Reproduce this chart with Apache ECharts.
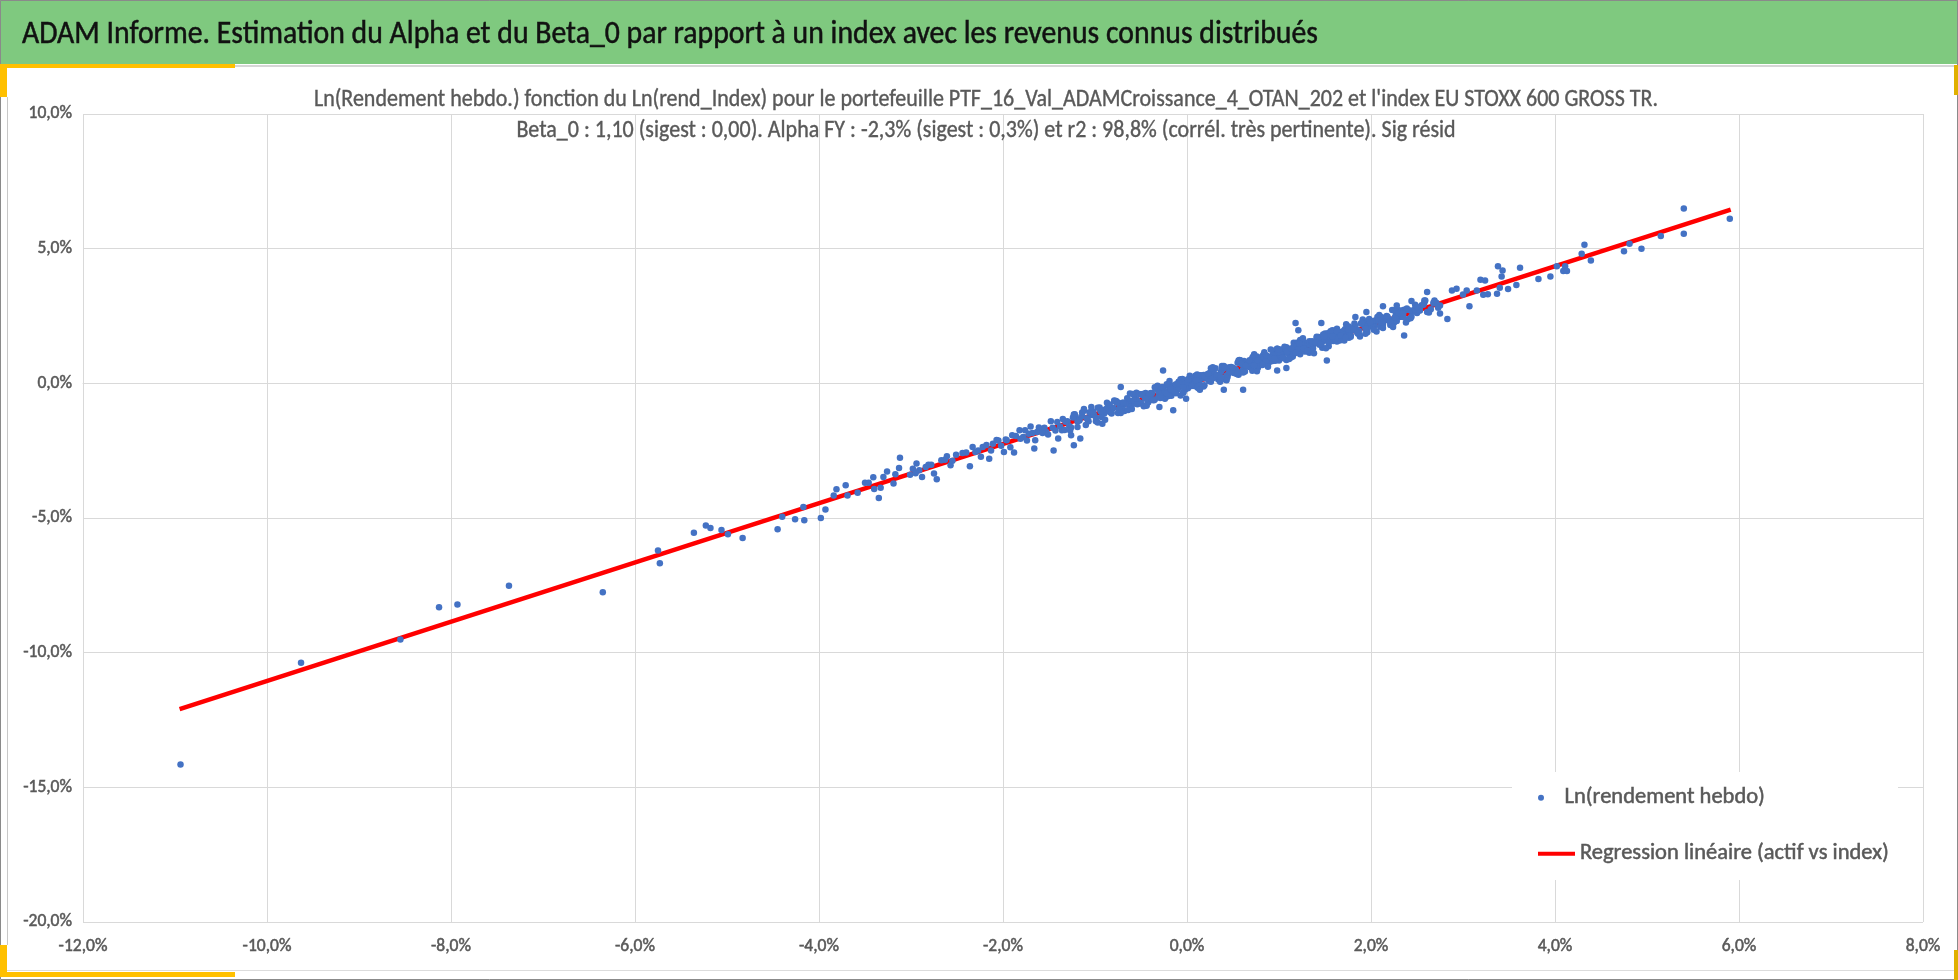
<!DOCTYPE html>
<html>
<head>
<meta charset="utf-8">
<script src="https://cdn.jsdelivr.net/npm/echarts@6/dist/echarts.min.js"></script>
<style>
html,body{margin:0;padding:0;background:#fff;}
#chart{width:1958px;height:980px;}
</style>
</head>
<body>
<div id="chart"></div>
<script>
// ---------- texts ----------
const headerTitle = "ADAM Informe. Estimation du Alpha et du Beta_0 par rapport à un index avec les revenus connus distribués";
const subtitleLine1 = "Ln(Rendement hebdo.) fonction du Ln(rend_Index) pour le portefeuille PTF_16_Val_ADAMCroissance_4_OTAN_202 et l'index EU STOXX 600 GROSS TR.";
const subtitleLine2 = "Beta_0 : 1,10 (sigest : 0,00). Alpha FY : -2,3% (sigest : 0,3%) et r2 : 98,8% (corrél. très pertinente). Sig résid";
const scatterName = "Ln(rendement hebdo)";
const lineName = "Regression linéaire (actif vs index)";

// ---------- axes ----------
const xMin = -12, xMax = 8, xStep = 2;
const yMin = -20, yMax = 10, yStep = 5;

// ---------- data : [index weekly ln return %, portfolio weekly ln return %] ----------
const leftTailPoints = [
[-10.94,-14.15],[-9.63,-10.37],[-8.55,-9.51],[-8.13,-8.31],[-7.93,-8.21],[-7.37,-7.52],[-6.35,-7.76],
[-5.75,-6.21],[-5.73,-6.68],[-5.36,-5.55],[-5.23,-5.28],[-5.18,-5.37],[-5.06,-5.45],[-4.99,-5.60],
[-4.83,-5.74],[-4.45,-5.42],[-4.40,-4.95],[-4.26,-5.05],[-4.17,-4.59],[-4.16,-5.08],[-3.98,-5.00],
[-3.93,-4.68],[-3.84,-4.16],[-3.81,-3.93],[-3.71,-3.78],[-3.69,-4.16]
];
const sparseMidPoints = [
[-3.58,-4.06],[-3.50,-3.69],[-3.46,-3.69],[-3.41,-3.49],[-3.40,-3.92],[-3.35,-4.26],[-3.33,-3.88],
[-3.30,-3.48],[-3.26,-3.27],[-3.19,-3.72],[-3.17,-3.38],[-3.13,-3.14],[-3.12,-2.76],[-3.01,-3.39],
[-2.98,-3.17],[-2.94,-2.98],[-2.91,-3.23],[-2.88,-3.48],[-2.84,-3.11],[-2.81,-3.02],[-2.75,-3.35],
[-2.72,-3.56],[-2.67,-2.86],[-2.61,-2.71],[-2.57,-3.04],[-2.51,-2.65],[-2.44,-2.59],[-2.36,-3.08],
[-2.33,-2.36],[-2.30,-2.55],[-2.24,-2.73],[-2.22,-2.36],[-2.15,-2.80],[-2.11,-2.24],[-2.05,-2.12],
[-1.99,-2.55],[-1.97,-2.09],[-1.90,-1.93],[-1.88,-2.57],[-1.82,-1.74],[-1.78,-1.99],[-1.72,-1.87],
[-1.70,-1.60],[-1.66,-2.42],[-1.63,-1.81],[-1.59,-1.74],[-1.53,-1.81],[-1.45,-2.49],[-1.40,-2.05],
[-1.36,-1.74],[-1.26,-1.93],[-1.23,-2.30],[-1.16,-2.05]
];
const bandPointsA = [
[-1.30,-1.41],[-1.26,-1.64],[-1.21,-1.23],[-1.17,-1.36],[-1.12,-1.02],[-1.08,-1.35],[-1.04,-1.18],
[-0.99,-1.41],[-0.95,-0.90],[-0.90,-1.12],[-0.86,-0.88],[-0.82,-1.12],[-0.77,-0.66],[-0.73,-0.81],
[-0.68,-1.03],[-0.64,-0.62],[-0.60,-0.77],[-0.55,-0.35],[-0.51,-0.75],[-0.46,-0.53],[-0.42,-0.70],
[-0.38,-0.37],[-0.33,-0.20],[-0.29,-0.37],[-0.24,-0.57],[-0.20,-0.11],[-0.16,-0.32],[-0.11,-0.12],
[-0.07,0.15],[-0.02,-0.23],[0.02,0.10],[0.06,-0.02],[0.11,-0.14],[0.15,0.30],[0.20,0.18],
[0.24,0.09],[0.28,0.50],[0.33,0.25],[0.37,0.44],[0.42,0.13],[0.46,0.60],[0.50,0.49],[0.55,0.76],
[0.59,0.42],[0.64,0.72],[0.68,0.61],[0.72,1.00],[0.77,0.57],[0.81,0.95],[0.86,0.93],[0.90,0.80],
[0.94,1.21],[0.99,0.99],[1.03,1.26],[1.08,0.87],[1.12,1.20],[1.16,1.51],[1.21,1.18],[1.25,1.46],
[1.30,1.19],[1.34,1.50],[1.38,1.46],[1.43,1.72],[1.47,1.32],[1.52,1.67],[1.56,1.59],[1.60,1.95],
[1.65,1.63],[1.69,1.92],[1.74,1.87],[1.78,1.73],[1.82,2.22],[1.87,1.95],[1.91,2.21],[1.96,1.90],
[2.00,2.25],[2.04,2.17],[2.09,2.54],[2.13,2.18],[2.18,2.40],[2.22,2.24],[2.27,2.57],[2.31,2.46],
[2.36,2.73],[2.40,2.38],[2.45,2.67],[2.50,2.61],[2.55,2.90],[2.61,2.65],[2.68,2.96],[2.75,2.89]
];
const bandPointsB = [
[-1.28,-1.58],[-1.23,-1.16],[-1.19,-1.42],[-1.14,-1.22],[-1.10,-1.55],[-1.06,-1.07],[-1.01,-1.18],
[-0.97,-0.91],[-0.93,-1.25],[-0.88,-0.95],[-0.84,-1.06],[-0.79,-0.66],[-0.75,-1.10],[-0.70,-0.72],
[-0.66,-0.74],[-0.62,-0.88],[-0.57,-0.45],[-0.53,-0.68],[-0.48,-0.40],[-0.44,-0.80],[-0.40,-0.48],
[-0.35,-0.15],[-0.31,-0.50],[-0.26,-0.20],[-0.22,-0.49],[-0.18,-0.17],[-0.13,-0.20],[-0.09,0.05],
[-0.04,-0.34],[0.00,-0.01],[0.04,-0.08],[0.09,0.28],[0.13,-0.04],[0.17,0.25],[0.22,0.20],
[0.26,0.06],[0.31,0.56],[0.35,0.28],[0.39,0.53],[0.44,0.23],[0.48,0.57],[0.53,0.51],[0.57,0.87],
[0.61,0.51],[0.66,0.73],[0.70,0.57],[0.75,0.90],[0.79,0.78],[0.83,1.05],[0.88,0.70],[0.92,0.99],
[0.97,0.92],[1.01,1.21],[1.05,0.93],[1.10,1.23],[1.14,1.12],[1.19,1.51],[1.23,1.08],[1.27,1.45],
[1.32,1.44],[1.36,1.30],[1.41,1.73],[1.45,1.50],[1.49,1.76],[1.54,1.38],[1.58,1.70],[1.63,2.03],
[1.67,1.68],[1.71,1.97],[1.76,1.69],[1.80,2.01],[1.85,1.98],[1.89,2.22],[1.94,1.84],[1.98,2.17],
[2.02,2.10],[2.07,2.46],[2.11,2.14],[2.16,2.44],[2.20,2.38],[2.25,2.25],[2.29,2.73],[2.34,2.47],
[2.38,2.72],[2.43,2.42],[2.48,2.77],[2.53,2.71],[2.58,2.99],[2.65,2.75],[2.71,2.99]
];
const bandPointsC = [
[-0.80,-0.92],[-0.75,-0.71],[-0.70,-0.90],[-0.65,-0.55],[-0.60,-0.95],[-0.55,-0.60],[-0.50,-0.73],
[-0.45,-0.36],[-0.40,-0.54],[-0.35,-0.60],[-0.30,-0.16],[-0.25,-0.29],[-0.20,-0.47],[-0.15,-0.08],
[-0.10,-0.23],[-0.05,0.16],[0.01,-0.18],[0.07,0.11],[0.12,-0.17],[0.18,0.31],[0.23,0.18],
[0.29,0.38],[0.34,0.14],[0.40,0.64],[0.45,0.35],[0.51,0.54],[0.56,0.32],[0.62,0.83],[0.67,0.63],
[0.73,0.85],[0.78,0.65],[0.84,1.15],[0.89,0.91],[0.95,1.12],[1.00,0.85],[1.06,1.15],[1.11,1.06],
[1.17,1.44],[1.22,1.23],[1.28,1.51],[1.33,1.14],[1.39,1.54],[1.44,1.43],[1.50,1.85],[1.55,1.62],
[1.61,1.83],[1.66,1.59],[1.72,2.02],[1.77,1.81],[1.83,2.01],[1.88,1.78],[1.94,2.30],[1.99,2.12],
[2.05,2.34],[2.10,2.10],[2.16,2.39],[2.21,2.29]
];
const bandPointsD = [
[-0.27,-0.42],[-0.19,-0.13],[-0.12,-0.37],[-0.06,-0.06],[0.03,0.19],[0.08,-0.07],[0.14,0.13],
[0.19,-0.07],[0.25,0.39],[0.32,0.27],[0.38,0.64],[0.43,0.29],[0.49,0.57],[0.54,0.35],[0.60,0.75],
[0.65,0.67],[0.71,0.47],[0.76,1.00],[0.82,0.80],[0.87,1.01],[0.93,0.83],[0.98,1.28],[1.04,1.07],
[1.09,1.22],[1.15,1.00],[1.20,1.46],[1.26,1.25],[1.31,1.43],[1.37,1.29],[1.42,1.66],[1.48,1.57],
[1.53,1.86],[1.59,1.57],[1.64,1.82],[1.70,1.62],[1.75,1.99]
];
const bandPointsE = [
[-1.27,-1.75],[-1.22,-1.15],[-1.17,-1.38],[-1.12,-0.95],[-1.07,-1.41],[-1.02,-1.05],[-0.97,-1.45],
[-0.92,-0.99],[-0.87,-0.72],[-0.82,-1.07],[-0.77,-0.70],[-0.72,-1.10],[-0.67,-0.76],[-0.62,-0.38],
[-0.57,-0.75],[-0.52,-0.40],[-0.47,-0.85],[-0.42,-0.41],[-0.37,-0.62],[-0.32,-0.09],[-0.27,-0.36],
[-0.22,-0.03],[-0.17,-0.46],[-0.12,-0.03],[-0.07,-0.45],[-0.02,-0.02],[0.03,0.28],[0.08,-0.10],
[0.13,0.28],[0.18,-0.12],[0.23,0.30],[0.28,0.60],[0.33,0.22],[0.38,0.58],[0.43,0.11],[0.48,0.61],
[0.53,0.48],[0.58,0.86],[0.63,0.44],[0.68,0.73],[0.73,1.08],[0.78,0.65],[0.83,1.04],[0.88,0.62],
[0.93,1.06],[0.98,1.28],[1.03,0.98],[1.08,1.34],[1.13,0.96],[1.18,1.31],[1.23,1.61],[1.28,1.18],
[1.33,1.56],[1.38,1.12],[1.43,1.64],[1.48,1.81],[1.53,1.57],[1.58,1.97],[1.63,1.55],[1.68,1.81],
[1.73,2.19],[1.78,1.78],[1.83,2.13],[1.88,1.74],[1.93,2.12],[1.98,2.39],[2.03,2.10],[2.08,2.45],
[2.13,2.05],[2.18,2.47],[2.23,2.72],[2.28,2.31],[2.33,2.70],[2.38,2.26],[2.43,2.70],[2.48,2.92],
[2.53,2.70],[2.58,3.08],[2.63,2.63],[2.68,3.00],[2.73,2.81]
];
const bandPointsF = [
[-1.24,-1.27],[-1.19,-1.62],[-1.14,-1.08],[-1.09,-1.30],[-1.04,-0.88],[-0.99,-1.28],[-0.94,-1.04],
[-0.89,-1.35],[-0.84,-0.79],[-0.79,-0.64],[-0.74,-0.96],[-0.69,-0.72],[-0.64,-0.99],[-0.59,-0.40],
[-0.54,-0.66],[-0.49,-0.42],[-0.44,-0.83],[-0.39,-0.36],[-0.34,-0.19],[-0.29,-0.54],[-0.24,-0.31],
[-0.19,0.09],[-0.14,-0.32],[-0.09,0.06],[-0.04,-0.35],[0.01,0.03],[0.06,-0.06],[0.11,0.33],
[0.16,-0.08],[0.21,0.32],[0.26,0.56],[0.31,0.26],[0.36,0.06],[0.41,0.58],[0.46,0.55],[0.51,0.38],
[0.56,0.85],[0.61,0.40],[0.66,0.70],[0.71,0.95],[0.76,0.45],[0.81,0.97],[0.86,0.85],[0.91,1.26],
[0.96,0.84],[1.01,1.14],[1.06,1.36],[1.11,0.90],[1.16,1.38],[1.21,1.28],[1.26,1.67],[1.31,1.20],
[1.36,1.50],[1.41,1.70],[1.46,1.45],[1.51,1.30],[1.56,1.93],[1.61,1.66],[1.66,1.88],[1.71,1.59],
[1.76,2.11],[1.81,1.98],[1.86,1.84],[1.91,2.37],[1.96,2.02],[2.01,2.31],[2.06,1.92],[2.11,2.46],
[2.16,2.34],[2.21,2.17],[2.26,2.71]
];
const bandPointsG = [
[-2.18,-2.29],[-2.13,-2.49],[-2.07,-2.10],[-2.02,-2.32],[-1.96,-2.11],[-1.92,-2.37],[-1.86,-1.96],
[-1.81,-2.06],[-1.76,-1.74],[-1.74,-2.12],[-1.68,-1.84],[-1.65,-2.11],[-1.61,-1.64],[-1.57,-1.84],
[-1.55,-1.65],[-1.51,-1.90],[-1.48,-1.41],[-1.46,-1.65],[-1.43,-1.75],[-1.41,-1.44],[-1.38,-1.60],
[-1.35,-1.32],[-1.33,-1.73],[-1.32,-1.43],[-2.27,-2.49],[-2.40,-2.57],[-2.55,-2.87],[-2.63,-2.84],
[-2.78,-3.02],[-2.95,-3.34]
];
const bandPointsH = [
[-0.58,-0.63],[-0.54,-0.78],[-0.49,-0.41],[-0.45,-0.57],[-0.40,-0.38],[-0.36,-0.63],[-0.31,-0.31],
[-0.27,-0.14],[-0.22,-0.38],[-0.18,-0.22],[-0.13,-0.35],[-0.09,-0.01],[-0.04,-0.15],[0.01,0.15],
[0.05,-0.10],[0.10,0.11],[0.14,-0.09],[0.19,0.26],[0.23,0.36],[0.28,0.19],[0.32,0.32],[0.37,0.23],
[0.41,0.60],[0.46,0.42],[0.50,0.58],[0.55,0.39],[0.59,0.72],[0.64,0.65],[0.68,0.86],[0.73,0.66],
[0.77,0.86],[0.82,0.68],[0.86,1.04],[0.91,0.96],[0.95,0.92],[1.00,1.26],[1.04,0.95],[1.09,1.18],
[1.13,1.29],[1.18,1.13],[1.22,1.47],[1.27,1.30],[1.31,1.21],[1.36,1.56],[1.40,1.52],[1.45,1.46],
[1.49,1.74],[1.54,1.51],[1.58,1.75],[1.63,1.93],[1.67,1.77],[1.72,1.69],[1.76,1.99],[1.81,1.99],
[1.85,1.88],[1.90,2.24],[1.94,2.03],[1.99,2.27],[2.03,1.99],[2.08,2.32],[2.12,2.26],[2.17,2.50],
[2.21,2.26],[2.26,2.45],[2.30,2.61],[2.35,2.46],[2.39,2.78],[2.44,2.47],[2.48,2.73],[2.53,2.73],
[2.57,2.92]
];
const bandOutliers = [
[-0.72,-0.14],[-0.26,0.48],[-0.92,-1.50],[-0.30,-0.88],[-0.15,-1.00],[-0.01,-0.57],[0.14,-0.24],
[0.40,-0.24],[0.61,-0.24],[0.98,0.48],[1.08,0.57],[1.18,2.24],[1.21,1.97],[1.46,2.24],[1.52,0.85],
[1.83,2.46],[1.95,2.65],[2.13,2.86],[2.28,2.89],[2.24,2.09],[2.36,1.78],[2.35,2.59],[2.83,2.39],
[2.75,2.59]
];
const rightTailPoints = [
[2.44,3.06],[2.50,2.83],[2.59,3.08],[2.61,3.39],[2.69,3.08],[2.88,3.45],[2.93,3.51],[3.00,3.30],
[3.04,3.45],[3.07,2.86],[3.15,3.45],[3.19,3.85],[3.22,3.29],[3.24,3.82],[3.27,3.31],[3.37,3.33],
[3.40,3.55],[3.42,3.97],[3.38,4.35],[3.43,4.19],[3.49,3.50],[3.58,3.65],[3.62,4.29],[3.82,3.87],
[3.95,3.97],[4.02,4.35],[4.09,4.17],[4.11,4.35],[4.13,4.17],[4.29,4.81],[4.32,5.15],[4.39,4.56],
[4.75,4.90],[4.81,5.18],[4.94,5.00],[5.15,5.47],[5.40,5.55],[5.40,6.49],[5.90,6.11]
];
const regressionLine = [[-10.95,-12.10],[5.91,6.45]];

const weeklyPoints = [].concat(leftTailPoints, sparseMidPoints, bandPointsA, bandPointsB,
  bandPointsC, bandPointsD, bandPointsE, bandPointsF, bandPointsG, bandPointsH,
  bandOutliers, rightTailPoints);

// ---------- style ----------
const FONT = "Carlito, 'Liberation Sans Narrow', 'Open Sans', sans-serif";
const GREY = '#595959';
const GRID = '#d9d9d9';
const pct = v => v.toFixed(1).replace('.', ',') + '%';

const chart = echarts.init(document.getElementById('chart'), null, {renderer: 'canvas'});
chart.setOption({
  animation: false,
  backgroundColor: '#ffffff',
  grid: {left: 83, right: 35, top: 114, bottom: 58},
  xAxis: {
    type: 'value', min: xMin, max: xMax, interval: xStep,
    axisLine: {show: true, lineStyle: {color: GRID, width: 1}},
    axisTick: {show: false},
    splitLine: {show: true, lineStyle: {color: GRID, width: 1}},
    axisLabel: {formatter: pct, color: GREY, fontSize: 17.5, fontFamily: FONT, margin: 16,
      textBorderColor: GREY, textBorderWidth: 0.5}
  },
  yAxis: {
    type: 'value', min: yMin, max: yMax, interval: yStep,
    axisLine: {show: false},
    axisTick: {show: false},
    splitLine: {show: true, lineStyle: {color: GRID, width: 1}},
    axisLabel: {formatter: pct, color: GREY, fontSize: 17.5, fontFamily: FONT, margin: 11,
      textBorderColor: GREY, textBorderWidth: 0.5}
  },
  legend: [
    {data: [scatterName], left: 1533, top: 781, itemWidth: 37, itemHeight: 6, icon: 'circle',
     itemGap: 0, z: 10, textStyle: {color: GREY, fontSize: 22.5, fontFamily: FONT,
       textBorderColor: GREY, textBorderWidth: 0.5}},
    {data: [lineName], left: 1533, top: 837, itemWidth: 37, itemHeight: 4, icon: 'rect',
     itemGap: 0, z: 10, textStyle: {color: GREY, fontSize: 22.5, fontFamily: FONT,
       textBorderColor: GREY, textBorderWidth: 0.5}}
  ],
  series: [
    {name: lineName, type: 'line', data: regressionLine, symbol: 'none', z: 2,
     lineStyle: {color: '#ff0000', width: 4.5}, itemStyle: {color: '#ff0000'}},
    {name: scatterName, type: 'scatter', data: weeklyPoints, symbolSize: 6.5, z: 3,
     itemStyle: {color: '#4472c4', opacity: 1}}
  ],
  graphic: [
    // header band
    {type: 'rect', shape: {x: 0, y: 0, width: 1958, height: 64}, style: {fill: '#7fc97f'}, z: 1},
    {type: 'text', z: 2, x: 22, y: 35, scaleX: 0.93, scaleY: 1,
     style: {x: 0, y: 0, text: headerTitle, verticalAlign: 'middle',
      font: "32px " + FONT, fill: '#111111', stroke: '#111111', lineWidth: 0.5}},
    // separators and frame
    {type: 'rect', shape: {x: 235, y: 65, width: 1723, height: 2}, style: {fill: '#d6d6d6'}, z: 1},
    {type: 'rect', shape: {x: 0, y: 970, width: 1958, height: 1}, style: {fill: '#dcdcdc'}, z: 1},
    {type: 'rect', shape: {x: 7, y: 97, width: 1, height: 848}, style: {fill: '#c8c8c8'}, z: 1},
    {type: 'rect', shape: {x: 0.5, y: 0.5, width: 1957, height: 979}, style: {fill: 'none', stroke: '#8a8a8a', lineWidth: 1}, z: 1},
    // orange corner marks
    {type: 'rect', shape: {x: 0, y: 64, width: 235, height: 4}, style: {fill: '#ffc000'}, z: 2},
    {type: 'rect', shape: {x: 0, y: 64, width: 7, height: 33}, style: {fill: '#ffc000'}, z: 2},
    {type: 'rect', shape: {x: 0, y: 972, width: 235, height: 5}, style: {fill: '#ffc000'}, z: 2},
    {type: 'rect', shape: {x: 0, y: 945, width: 7, height: 32}, style: {fill: '#ffc000'}, z: 2},
    {type: 'rect', shape: {x: 1954, y: 65, width: 4, height: 30}, style: {fill: '#e0b000'}, z: 2},
    {type: 'rect', shape: {x: 1954, y: 950, width: 4, height: 30}, style: {fill: '#e0b000'}, z: 2},
    // chart subtitle (tall, horizontally condensed lettering)
    {type: 'text', z: 2, x: 986, y: 100, scaleX: 0.88, scaleY: 1,
     style: {x: 0, y: 0, text: subtitleLine1, align: 'center', verticalAlign: 'middle',
      font: "25px " + FONT, fill: GREY, stroke: GREY, lineWidth: 0.4}},
    {type: 'text', z: 2, x: 986, y: 131, scaleX: 0.88, scaleY: 1,
     style: {x: 0, y: 0, text: subtitleLine2, align: 'center', verticalAlign: 'middle',
      font: "25px " + FONT, fill: GREY, stroke: GREY, lineWidth: 0.4}},
    // legend background
    {type: 'rect', shape: {x: 1512, y: 772, width: 386, height: 108}, style: {fill: '#ffffff'}, z: 5}
  ]
});
</script>
</body>
</html>
